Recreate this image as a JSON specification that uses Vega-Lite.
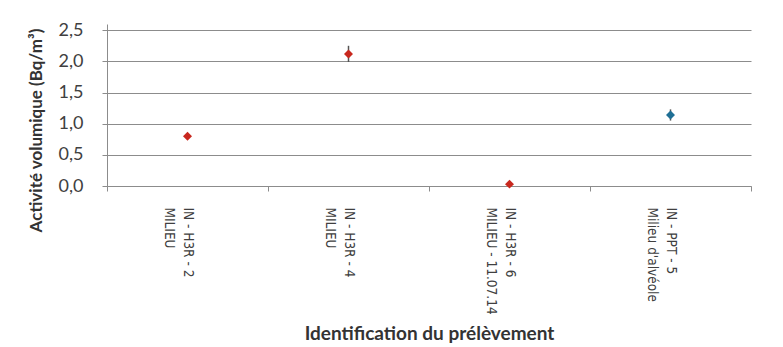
{
  "$schema": "https://vega.github.io/schema/vega-lite/v6.json",
  "width": 644,
  "height": 162,
  "autosize": {"type": "none"},
  "padding": {"left": 107, "top": 24, "right": 32, "bottom": 161},
  "background": "white",
  "config": {
    "view": {"stroke": null},
    "axisY": {
      "values": [0, 0.5, 1, 1.5, 2, 2.5],
      "labelExpr": "replace(format(datum.value, '.1f'), '.', ',')",
      "labelFont": "Lato",
      "labelFontSize": 18,
      "labelColor": "#404040",
      "labelPadding": 19,
      "labelOverlap": false,
      "tickSize": 5,
      "tickColor": "#8c8c8c",
      "domainColor": "#8c8c8c",
      "gridColor": "#8c8c8c",
      "gridOpacity": 1,
      "titleFont": "Lato",
      "titleFontSize": 17,
      "titleFontWeight": "bold",
      "titleColor": "#333333",
      "titleBaseline": "middle",
      "titleX": -71,
      "titleY": 106
    }
  },
  "data": {
    "values": [
      {"id": "IN - H3R - 2|MILIEU", "type": "H3R", "value": 0.80, "lo": 0.78, "hi": 0.82},
      {"id": "IN - H3R - 4|MILIEU", "type": "H3R", "value": 2.12, "lo": 1.99, "hi": 2.25},
      {"id": "IN - H3R - 6|MILIEU - 11.07.14", "type": "H3R", "value": 0.03, "lo": 0.02, "hi": 0.04},
      {"id": "IN - PPT - 5|Milieu d'alvéole", "type": "PPT", "value": 1.14, "lo": 1.05, "hi": 1.23}
    ]
  },
  "encoding": {
    "x": {
      "field": "id",
      "type": "nominal",
      "sort": null,
      "scale": {"paddingInner": 0, "paddingOuter": 0},
      "axis": {
        "title": "Identification du prélèvement",
        "titleFont": "Lato",
        "titleFontSize": 19,
        "titleFontWeight": "bold",
        "titleColor": "#333333",
        "titleBaseline": "middle",
        "titleY": 147,
        "labelExpr": "split(datum.label, '|')",
        "labelAngle": 90,
        "labelFont": "Liberation Sans Narrow, DejaVu Sans Condensed, sans-serif",
        "labelFontSize": 13.5,
        "labelLineHeight": 19,
        "labelColor": "#404040",
        "labelPadding": 16,
        "tickBand": "extent",
        "tickSize": 5,
        "tickColor": "#8c8c8c",
        "domainColor": "#8c8c8c",
        "grid": false,
        "labelLimit": 300
      }
    }
  },
  "layer": [
    {
      "mark": {"type": "rule", "color": "#555555", "strokeWidth": 1.5},
      "encoding": {
        "y": {
          "field": "lo",
          "type": "quantitative",
          "scale": {"domain": [0, 2.5]},
          "title": "Activité volumique (Bq/m³)"
        },
        "y2": {"field": "hi"}
      }
    },
    {
      "mark": {"type": "point", "shape": "diamond", "filled": true, "size": 80, "opacity": 1},
      "encoding": {
        "y": {"field": "value", "type": "quantitative", "title": "Activité volumique (Bq/m³)"},
        "color": {
          "field": "type",
          "type": "nominal",
          "scale": {"domain": ["H3R", "PPT"], "range": ["#c8281e", "#1f6f95"]},
          "legend": null
        }
      }
    }
  ]
}
